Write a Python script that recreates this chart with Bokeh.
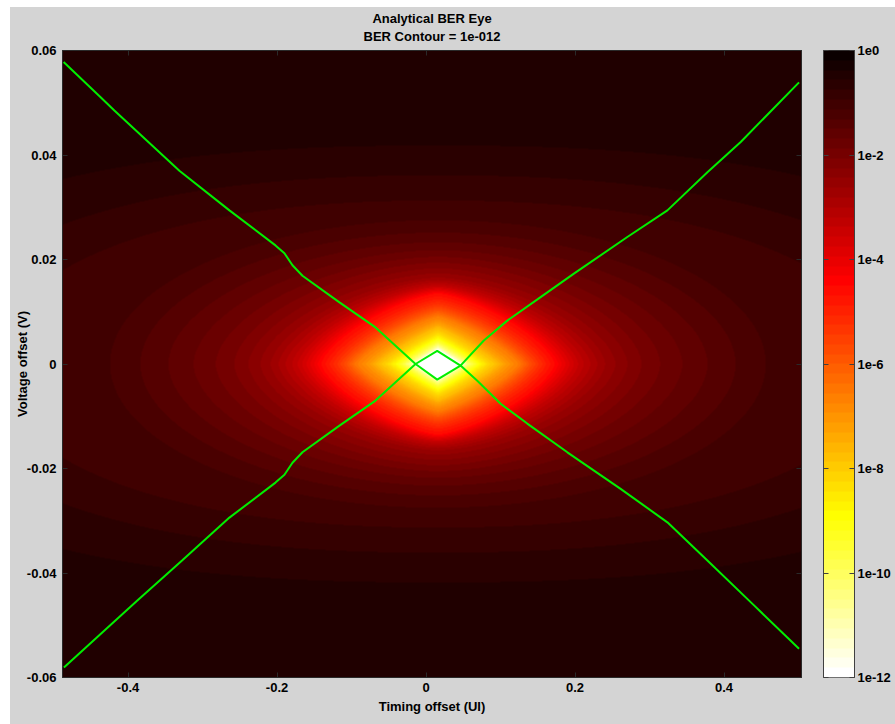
import numpy as np
from bokeh.plotting import figure
from bokeh.models import Range1d, LinearColorMapper, FixedTicker, LinearAxis, Spacer
from bokeh.layouts import row, column
from bokeh.embed import file_html
from bokeh.resources import INLINE

# ---------------- data ----------------
title_line1 = "Analytical BER Eye"
title_line2 = "BER Contour = 1e-012"
x_label = "Timing offset (UI)"
y_label = "Voltage offset (V)"

x_limits = [-0.488, 0.504]
y_limits = [-0.06, 0.06]
x_ticks = [-0.4, -0.2, 0.0, 0.2, 0.4]
x_tick_labels = ["-0.4", "-0.2", "0", "0.2", "0.4"]
y_ticks = [-0.06, -0.04, -0.02, 0.0, 0.02, 0.04, 0.06]
y_tick_labels = ["-0.06", "-0.04", "-0.02", "0", "0.02", "0.04", "0.06"]

cbar_low = -12.0
cbar_high = 0.0
cbar_ticks = [0, -2, -4, -6, -8, -10, -12]
cbar_tick_labels = ["1e0", "1e-2", "1e-4", "1e-6", "1e-8", "1e-10", "1e-12"]

# BER eye: centre and read-off contour shapes (log10 BER, half-width UI, half-height V, shape exponent)
eye_center_x = 0.016
eye_center_y = 0.0
background_log_ber = -0.45
contour_log_ber = [-0.5625, -0.75, -0.9375, -1.125, -1.40, -1.70, -2.10, -2.60, -3.30, -4.50, -6.50, -7.70, -9.00, -12.0]
contour_half_width = [0.80, 0.68, 0.59, 0.44, 0.383, 0.326, 0.269, 0.226, 0.191, 0.157, 0.110, 0.080, 0.055, 0.030]
contour_half_height = [0.0418, 0.0361, 0.0313, 0.0275, 0.0242, 0.0217, 0.0192, 0.0166, 0.0150, 0.0135, 0.0092, 0.0069, 0.0048, 0.0027]
contour_shape_exp = [2.4, 2.3, 2.2, 2.0, 1.9, 1.8, 1.7, 1.6, 1.5, 1.4, 1.25, 1.15, 1.1, 1.0]
inner_log_ber = -12.5

# BER = 1e-12 contour (green), two branches
lineA_x = [-0.4865, -0.4372, -0.4184, -0.3311, -0.2639, -0.2021, -0.1901, -0.1793, -0.1659, -0.1162, -0.0678,
           -0.0141, 0.0150, 0.0463, 0.0688, 0.1001, 0.1359, 0.1897, 0.2612, 0.3240, 0.3777, 0.4403, 0.5007]
lineA_y = [0.0578, 0.0511, 0.0485, 0.0370, 0.0294, 0.0227, 0.0212, 0.0189, 0.0169, 0.0118, 0.0070,
           0.0000, -0.0030, -0.0003, -0.0032, -0.0076, -0.0114, -0.0169, -0.0239, -0.0303, -0.0376, -0.0462, -0.0545]
lineB_x = [-0.4861, -0.4416, -0.3879, -0.3275, -0.2639, -0.2021, -0.1901, -0.1793, -0.1659, -0.1162, -0.0678,
           -0.0141, 0.0150, 0.0463, 0.0776, 0.1091, 0.1538, 0.1985, 0.2702, 0.3240, 0.3777, 0.4224, 0.5007]
lineB_y = [-0.0581, -0.0523, -0.0453, -0.0376, -0.0294, -0.0227, -0.0212, -0.0189, -0.0169, -0.0118, -0.0070,
           0.0000, 0.0025, -0.0003, 0.0045, 0.0083, 0.0128, 0.0173, 0.0243, 0.0294, 0.0367, 0.0425, 0.0539]

# ---------------- styling ----------------
GRAY = "#d4d4d4"
DARK = "#2a2a2a"
FONT = "Liberation Sans"
FS = "13px"
FRAME_W, FRAME_H = 739, 627

# flipped MATLAB "hot" colormap (64 entries, low -> white, high -> black)
hot = []
for k in range(64):
    r = min(1.0, (k + 1) / 24.0)
    g = min(1.0, max(0.0, (k + 1 - 24) / 24.0))
    b = max(0.0, (k + 1 - 48) / 16.0)
    hot.append("#%02x%02x%02x" % (int(round(r * 255)), int(round(g * 255)), int(round(b * 255))))
palette = [hot[63 - i] for i in range(64)]
mapper = LinearColorMapper(palette=palette, low=cbar_low, high=cbar_high)

# ---------------- field from the read contours ----------------
nx, ny = FRAME_W, FRAME_H
xs = x_limits[0] + (np.arange(nx) + 0.5) * (x_limits[1] - x_limits[0]) / nx
ys = y_limits[0] + (np.arange(ny) + 0.5) * (y_limits[1] - y_limits[0]) / ny
X, Y = np.meshgrid(xs, ys)
DX = np.abs(X - eye_center_x)
DY = np.abs(Y - eye_center_y)
K = len(contour_log_ber)
R = np.empty((K, ny, nx))
for k in range(K):
    nexp = contour_shape_exp[k]
    R[k] = ((DX / contour_half_width[k]) ** nexp + (DY / contour_half_height[k]) ** nexp) ** (1.0 / nexp)
field = np.full((ny, nx), background_log_ber)
for k in range(K - 1):
    m = (R[k] <= 1.0) & (R[k + 1] > 1.0)
    t = (1.0 - R[k][m]) / (R[k + 1][m] - R[k][m])
    field[m] = contour_log_ber[k] + t * (contour_log_ber[k + 1] - contour_log_ber[k])
field[R[K - 1] <= 1.0] = inner_log_ber
field = field.astype(np.float32)

# ---------------- main figure ----------------
p = figure(width=803, height=717,
           x_range=Range1d(x_limits[0], x_limits[1]), y_range=Range1d(y_limits[0], y_limits[1]),
           output_backend="svg", toolbar_location=None,
           min_border_left=52, min_border_right=12, min_border_top=43, min_border_bottom=47,
           border_fill_color=GRAY, background_fill_color=GRAY,
           outline_line_color=DARK, outline_line_width=1)
p.grid.visible = False

p.image(image=[field], x=x_limits[0], y=y_limits[0],
        dw=x_limits[1] - x_limits[0], dh=y_limits[1] - y_limits[0], color_mapper=mapper)
p.line(lineA_x, lineA_y, line_color="#00ee00", line_width=2)
p.line(lineB_x, lineB_y, line_color="#00ee00", line_width=2)


def style_axis(ax, ticks, labels=None, show_labels=True, line_color=DARK):
    ax.ticker = FixedTicker(ticks=ticks)
    ax.major_tick_in = 5
    ax.major_tick_out = 0
    ax.minor_tick_line_color = None
    ax.axis_line_color = line_color
    ax.major_tick_line_color = line_color
    if show_labels:
        if labels is not None:
            ax.major_label_overrides = {t: l for t, l in zip(ticks, labels)}
        ax.major_label_text_font = FONT
        ax.major_label_text_font_style = "bold"
        ax.major_label_text_color = "black"
        ax.major_label_text_font_size = FS
    else:
        ax.major_label_text_color = None
        ax.major_label_text_font_size = "1px"
        ax.major_label_standoff = 0


def style_axis_label(ax, text, standoff):
    ax.axis_label = text
    ax.axis_label_standoff = standoff
    ax.axis_label_text_font = FONT
    ax.axis_label_text_font_style = "bold"
    ax.axis_label_text_font_size = FS
    ax.axis_label_text_color = "black"


style_axis(p.xaxis[0], x_ticks, x_tick_labels)
p.xaxis[0].major_label_standoff = 5
style_axis_label(p.xaxis[0], x_label, 4)

style_axis(p.yaxis[0], y_ticks, y_tick_labels)
p.yaxis[0].major_label_standoff = 6
style_axis_label(p.yaxis[0], y_label, -6)

# top axis: inward ticks, and it carries the second title line just above the frame
top_axis = LinearAxis()
style_axis(top_axis, x_ticks, show_labels=False)
style_axis_label(top_axis, title_line2, 7)
p.add_layout(top_axis, "above")
right_axis = LinearAxis()
style_axis(right_axis, y_ticks, show_labels=False)
p.add_layout(right_axis, "right")

p.title.text = title_line1
p.title.align = "center"
p.title.text_font = FONT
p.title.text_font_style = "bold"
p.title.text_font_size = FS
p.title.text_color = "black"
p.title.standoff = 0

# ---------------- colour bar figure ----------------
cb = figure(width=82, height=717, x_range=Range1d(0, 1), y_range=Range1d(cbar_low, cbar_high),
            x_axis_type=None, y_axis_type=None,
            output_backend="svg", toolbar_location=None,
            min_border_left=10, min_border_right=41, min_border_top=43, min_border_bottom=47,
            border_fill_color=GRAY, background_fill_color=GRAY,
            outline_line_color="#404040")
cb.grid.visible = False
step = (cbar_high - cbar_low) / len(palette)
cbar_vals = (cbar_low + step * (np.arange(len(palette)) + 0.5)).reshape(len(palette), 1)
cb.image(image=[cbar_vals], x=0, y=cbar_low, dw=1, dh=cbar_high - cbar_low, color_mapper=mapper)
cb_left = LinearAxis()
style_axis(cb_left, cbar_ticks, show_labels=False, line_color="#404040")
cb.add_layout(cb_left, "left")
cb_right = LinearAxis()
style_axis(cb_right, cbar_ticks, cbar_tick_labels, line_color="#404040")
cb_right.major_label_standoff = 3
cb.add_layout(cb_right, "right")

white = {"background-color": "white"}
layout = column(
    Spacer(width=895, height=7, styles=white),
    row(Spacer(width=10, height=717, styles=white), p, cb, spacing=0),
    spacing=0,
)
html = file_html(layout, INLINE, title="Analytical BER Eye")
html = html.replace("<head>", "<head><style>html{background:#d4d4d4;}body{margin:0;}</style>", 1)
open("out.html", "w").write(html)
